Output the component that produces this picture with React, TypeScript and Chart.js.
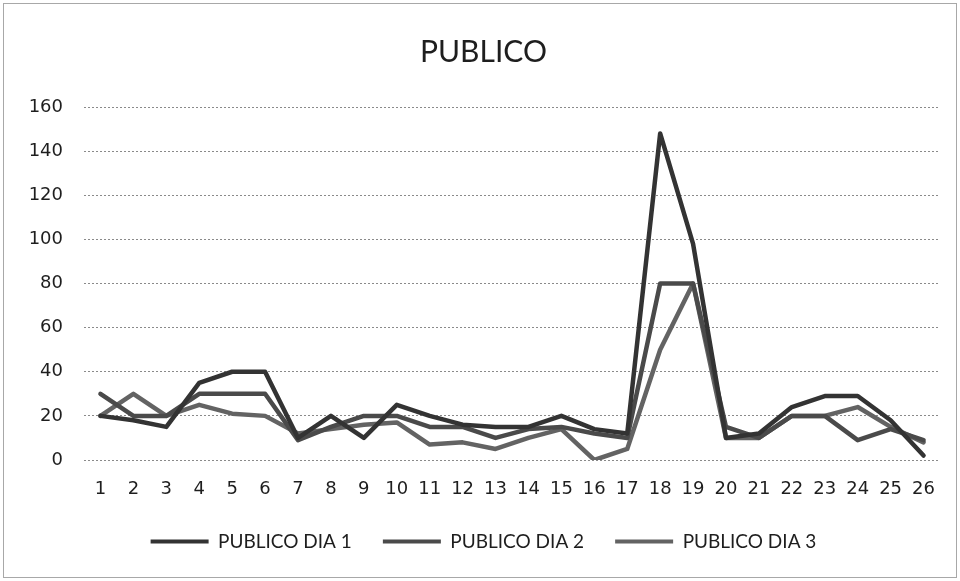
import { useEffect, useRef } from "react";
import { Chart, registerables } from "chart.js";

Chart.register(...registerables);

const categories = ["1", "2", "3", "4", "5", "6", "7", "8", "9", "10", "11", "12", "13", "14", "15", "16", "17", "18", "19", "20", "21", "22", "23", "24", "25", "26"];

const publicoDia1 = [20, 18, 15, 35, 40, 40, 10, 20, 10, 25, 20, 16, 15, 15, 20, 14, 12, 148, 98, 10, 12, 24, 29, 29, 18, 2];
const publicoDia2 = [30, 20, 20, 30, 30, 30, 9, 15, 20, 20, 15, 15, 10, 14, 15, 12, 10, 80, 80, 15, 10, 20, 20, 9, 14, 9];
const publicoDia3 = [20, 30, 20, 25, 21, 20, 12, 14, 16, 17, 7, 8, 5, 10, 14, 0, 5, 50, 80, 10, 10, 20, 20, 24, 15, 8];

const seriesNames = ["PUBLICO DIA 1", "PUBLICO DIA 2", "PUBLICO DIA 3"];
const seriesColors = ["#333333", "#4a4a4a", "#636363"];

const yMin = 0;
const yMax = 160;
const yStep = 20;

const frame = {
  id: "frame",
  beforeDraw(chart: any) {
    const ctx = chart.ctx;
    ctx.save();
    ctx.fillStyle = "#ffffff";
    ctx.fillRect(0, 0, chart.width, chart.height);
    ctx.strokeStyle = "#a8a8a8";
    ctx.lineWidth = 1;
    ctx.strokeRect(3.5, 3.5, chart.width - 7, chart.height - 7);
    ctx.restore();
  },
};

export default function App() {
  const ref = useRef<HTMLCanvasElement | null>(null);

  useEffect(() => {
    if (!ref.current) return;
    const values = [publicoDia1, publicoDia2, publicoDia3];
    const chart = new Chart(ref.current, {
      type: "line",
      data: {
        labels: categories,
        datasets: values.map((v, i) => ({
          label: seriesNames[i],
          data: v,
          borderColor: seriesColors[i],
          backgroundColor: seriesColors[i],
          borderWidth: 4.5,
          pointRadius: 0,
          tension: 0,
          borderJoinStyle: "round" as const,
          borderCapStyle: "round" as const,
          fill: false,
        })),
      },
      options: {
        responsive: false,
        animation: false,
        layout: { padding: { left: 27, right: 20, top: 20, bottom: 20 } },
        plugins: {
          tooltip: { enabled: false },
          title: {
            display: true,
            text: "PUBLICO",
            color: "#1e1e1e",
            font: { family: "Lato", size: 30, weight: "normal" },
            padding: { top: 14, bottom: 37 },
          },
          legend: {
            position: "bottom",
            labels: {
              color: "#1e1e1e",
              font: { family: "Lato", size: 19 },
              boxWidth: 58,
              boxHeight: 4,
              padding: 31,
              generateLabels: (c: any) =>
                Chart.defaults.plugins.legend.labels
                  .generateLabels(c)
                  .map((it: any) => ({ ...it, lineWidth: 0 })),
            },
          },
        },
        scales: {
          x: {
            offset: true,
            grid: { display: false, drawTicks: false },
            border: { display: false },
            ticks: {
              color: "#1e1e1e",
              font: { family: "DejaVu Sans", size: 18 },
              padding: 19,
              maxRotation: 0,
              autoSkip: false,
            },
            afterFit: (scale: any) => {
              scale.height = 41;
            },
          },
          y: {
            min: yMin,
            max: yMax,
            grid: { color: "#8a8a8a", lineWidth: 1, drawTicks: false },
            border: { display: false, dash: [2, 2] },
            ticks: {
              stepSize: yStep,
              color: "#1e1e1e",
              font: { family: "DejaVu Sans", size: 18 },
              padding: 21,
            },
            afterFit: (scale: any) => {
              scale.width = 57;
            },
          },
        },
      },
      plugins: [frame],
    });
    return () => chart.destroy();
  }, []);

  return (
    <div style={{ position: "fixed", left: 0, top: 0, width: 960, height: 581, background: "#fff" }}>
      <canvas ref={ref} width={960} height={581} />
    </div>
  );
}
